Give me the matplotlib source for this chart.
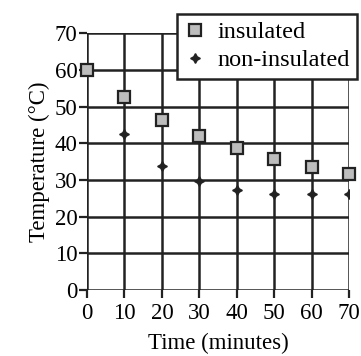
import matplotlib.pyplot as plt
import numpy as np

plt.rcParams['font.family'] = ['Liberation Serif', 'DejaVu Serif']

time_min = [0, 10, 20, 30, 40, 50, 60, 70]
insulated = [60, 52.7, 46.2, 42, 38.6, 35.8, 33.5, 31.5]
non_insulated = [60, 42.5, 33.8, 29.6, 27.2, 26.3, 26.1, 26.1]

fig = plt.figure(figsize=(3.61, 3.56), dpi=100)
ax = fig.add_axes([0.241, 0.185, 0.726, 0.722])

ax.set_xlim(0, 70)
ax.set_ylim(0, 70)
ax.set_xticks(np.arange(0, 71, 10))
ax.set_yticks(np.arange(0, 71, 10))
ax.grid(True, color='#222222', linewidth=1.8)
ax.set_axisbelow(True)
for s in ax.spines.values():
    s.set_visible(False)
ax.tick_params(length=6, width=1.6, color='#222222', labelsize=16.5, pad=1)
ax.tick_params(axis='x', pad=3)

ax.plot(time_min, non_insulated, linestyle='none', marker=(4, 1, 0),
        markersize=7, color='#222222', label='non-insulated', zorder=3)
ax.plot(time_min, insulated, linestyle='none', marker='s', markersize=8.5,
        markerfacecolor='#bdbdbd', markeredgecolor='#222222',
        markeredgewidth=1.6, label='insulated', zorder=4, clip_on=False)

ax.set_xlabel('Time (minutes)', fontsize=16.5, labelpad=7)
ax.set_ylabel('Temperature (°C)', fontsize=16.5, labelpad=3)

handles, labels = ax.get_legend_handles_labels()
leg = fig.legend(handles[::-1], labels[::-1], loc='upper right',
                 bbox_to_anchor=(0.989, 0.961), fontsize=17.5, frameon=True,
                 fancybox=False, framealpha=1, edgecolor='#222222',
                 handlelength=0.9, handletextpad=0.45, borderpad=0.3,
                 labelspacing=0.25, borderaxespad=0)
leg.get_frame().set_linewidth(1.8)

fig.savefig('out.png', dpi=100)
